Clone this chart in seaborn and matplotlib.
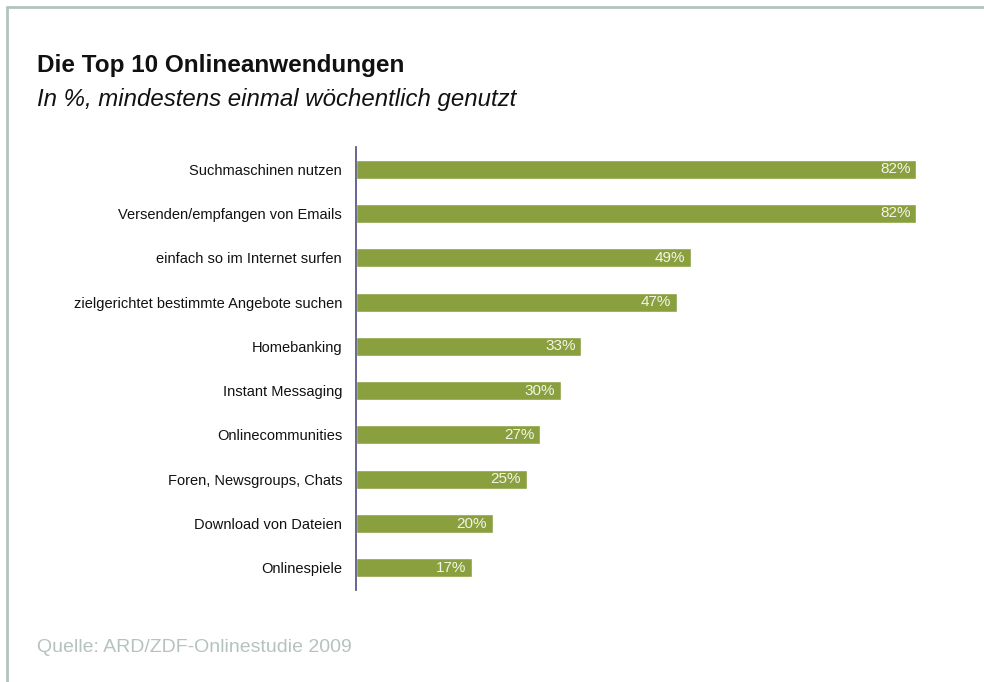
import matplotlib
matplotlib.use("Agg")
import matplotlib.pyplot as plt
from matplotlib.lines import Line2D
import seaborn as sns
import pandas as pd

categories = [
    "Suchmaschinen nutzen",
    "Versenden/empfangen von Emails",
    "einfach so im Internet surfen",
    "zielgerichtet bestimmte Angebote suchen",
    "Homebanking",
    "Instant Messaging",
    "Onlinecommunities",
    "Foren, Newsgroups, Chats",
    "Download von Dateien",
    "Onlinespiele",
]
values = [82, 82, 49, 47, 33, 30, 27, 25, 20, 17]

title = "Die Top 10 Onlineanwendungen"
subtitle = "In %, mindestens einmal wöchentlich genutzt"
source = "Quelle: ARD/ZDF-Onlinestudie 2009"

sns.set_theme(style="white")
plt.rcParams["font.family"] = ["Liberation Sans", "DejaVu Sans"]

df = pd.DataFrame({"Anwendung": categories, "Anteil": values})

fig = plt.figure(figsize=(9.84, 6.82), dpi=100)
W, H = 984, 682
ax = fig.add_axes([356 / W, 92 / H, (W - 356) / W, 443 / H])

bar_color = "#8aa03e"
sns.barplot(data=df, x="Anteil", y="Anwendung", color=bar_color,
            saturation=1, width=0.43, ax=ax, orient="h")

ax.set_xlim(0, (W - 356) / 6.83)
ax.set_ylim(len(categories) - 0.5, -0.5)
ax.set_xlabel("")
ax.set_ylabel("")
ax.set_xticks([])
for side in ["top", "right", "bottom"]:
    ax.spines[side].set_visible(False)
ax.spines["left"].set_color("#5b5b88")
ax.spines["left"].set_linewidth(1.3)
ax.tick_params(axis="y", length=0, pad=10, labelsize=10.5, labelcolor="#111111")

# value labels, right-aligned inside the end of each bar
for i, v in enumerate(values):
    ax.annotate(f"{v}%", xy=(v, i), xytext=(-4, 0), textcoords="offset points",
                ha="right", va="center", color="#f4f4ea", fontsize=11)

fig.text(37 / W, 1 - 72 / H, title, fontsize=17.5, fontweight="bold",
         color="#111111", ha="left", va="baseline")
fig.text(37 / W, 1 - 106 / H, subtitle, fontsize=17.3, style="italic",
         color="#111111", ha="left", va="baseline")
fig.text(37 / W, 1 - 652 / H, source, fontsize=14, color="#b6c3bc",
         ha="left", va="baseline")

frame_color = "#b4c3bc"
fig.add_artist(Line2D([7 / W, 7 / W], [0, 1 - 7 / H], transform=fig.transFigure,
                      color=frame_color, linewidth=2))
fig.add_artist(Line2D([7 / W, 1], [1 - 7 / H, 1 - 7 / H], transform=fig.transFigure,
                      color=frame_color, linewidth=2))

fig.savefig("out.png", dpi=100)
